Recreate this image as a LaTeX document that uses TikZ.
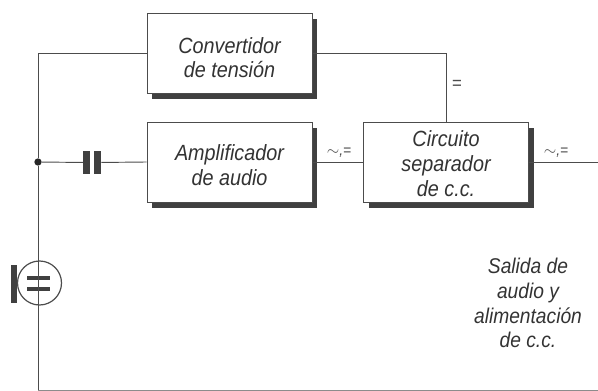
\documentclass[tikz,border=0pt]{standalone}
\usepackage{fontspec}
\setmainfont[FakeStretch=0.9]{Liberation Sans}
\usetikzlibrary{shadows}
\newcommand{\topdrop}[1]{\rule{0pt}{#1}}
\begin{document}
\begin{tikzpicture}[
  x=0.75pt, y=-0.75pt,
  block/.style={rectangle, draw=black!70, fill=white, line width=0.7pt, minimum width=123.75pt, minimum height=60pt, inner sep=0pt, align=center, font=\fontsize{16.5}{18.6}\selectfont\itshape, text=black!80, drop shadow={shadow xshift=4pt, shadow yshift=-4.5pt, fill=black!75, opacity=1}},
  wire/.style={draw=black!70, line width=0.7pt},
  plate/.style={rectangle, fill=black!75, inner sep=0pt},
  tag/.style={font=\fontsize{11.5}{12}\selectfont\itshape, text=black!70, inner sep=0pt},
  node distance=81.75pt
]
\useasboundingbox (0,0) rectangle (598,391);

% Blocks
\node[block] (conv) at (229.5,53) {\topdrop{19pt}Convertidor\\de tensión};
\node[block, below of=conv] (amp) {\topdrop{16.5pt}Amplificador\\de audio};
\node[block, right of=amp, node distance=162.4pt] (sep) {\topdrop{14pt}Circuito\\separador\\de c.c.};

% Junction, capacitor, tube
\node[circle, fill=black!85, inner sep=0pt, minimum size=5.5pt] (junct) at (38,162) {};
\node[plate, minimum width=5pt, minimum height=17pt] (capa) at (86.5,162.5) {};
\node[plate, minimum width=5pt, minimum height=17pt] (capb) at (97.7,162.5) {};
\node[circle, draw=black!70, line width=0.9pt, inner sep=0pt, minimum size=33pt] (tube) at (39.5,283) {};
\node[plate, minimum width=4.5pt, minimum height=28.5pt] (anode) at (14,284) {};
\node[plate, minimum width=17pt, minimum height=3.5pt] (grida) at (38.5,278) {};
\node[plate, minimum width=17pt, minimum height=3.5pt] (gridb) at (38.5,289) {};

\coordinate (out) at (598,162);
\coordinate (corner) at (38,390);
\coordinate (bottom) at (598,390);

% Wires
\draw[wire] (conv.west) -| (junct);
\draw[wire] (junct) -- (capa);
\draw[wire] (capb) -- (amp.west);
\draw[wire] (conv.east) -| (sep.north);
\draw[wire] (amp.east) -- (sep.west);
\draw[wire] (sep.east) -- (out);
\draw[wire] (junct) -- (corner);
\draw[draw=black!45, line width=0.7pt] (corner) -- (bottom);

% Labels
\node[tag, font=\fontsize{14}{14}\selectfont] (dc) at (457,85) {=};
\node[tag] (ampout) at (339,153) {$\sim$,=};
\node[tag] (sepout) at (556,153) {$\sim$,=};
\node[align=center, inner sep=0pt, font=\fontsize{16}{18.6}\selectfont\itshape, text=black!80] (salida) at (528,303) {Salida de\\audio y\\alimentación\\de c.c.};
\end{tikzpicture}
\end{document}
